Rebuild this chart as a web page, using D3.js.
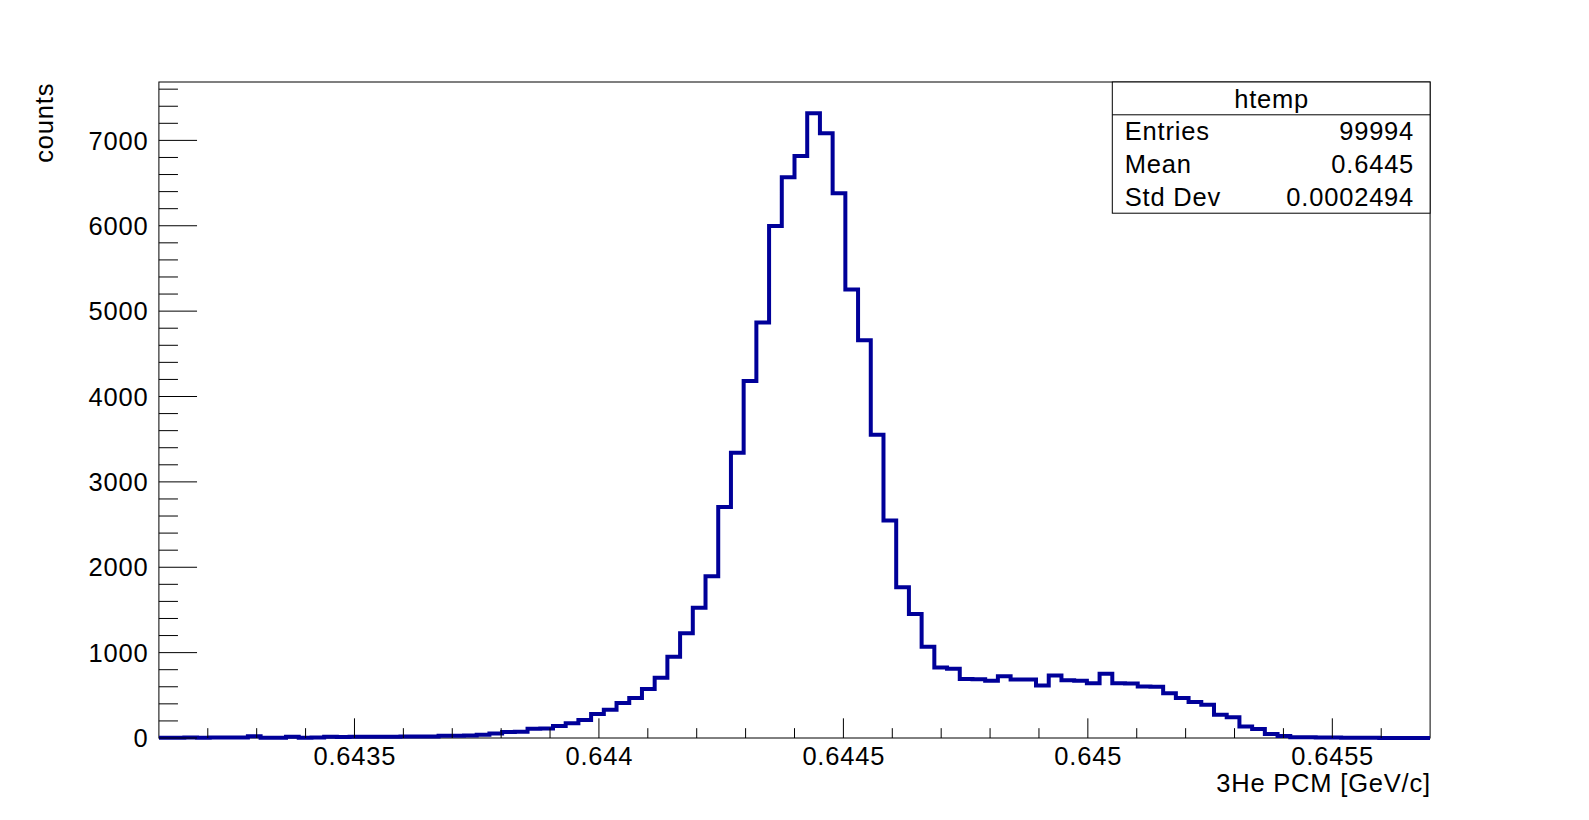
<!DOCTYPE html>
<html><head><meta charset="utf-8">
<script src="https://cdn.jsdelivr.net/npm/d3@7"></script>
<style>
html,body{margin:0;padding:0;background:#fff;}
svg{display:block;}
text{font-family:"Liberation Sans",Arial,Helvetica,sans-serif;fill:#000;letter-spacing:0.8px;}
</style>
</head><body>
<svg id="c" width="1589" height="820"></svg>
<script>
// ---- data ----
const xRange = [0.6431, 0.6457];
const counts = [
  4, 3, 5, 4, 6, 5, 7, 20, 3, 4,
  16, 4, 5, 14, 13, 14, 15, 16, 15, 17,
  18, 19, 26, 27, 28, 38, 52, 70, 72, 108,
  112, 140, 172, 212, 280, 330, 410, 470, 575, 705,
  952, 1227, 1525, 1895, 2705, 3340, 4183, 4867, 5996, 6567,
  6817, 7318, 7083, 6380, 5254, 4660, 3551, 2547, 1766, 1453,
  1068, 825, 810, 690, 688, 672, 722, 685, 684, 615,
  733, 675, 672, 640, 752, 640, 638, 602, 600, 523,
  470, 422, 390, 272, 243, 135, 105, 48, 22, 10,
  8, 7, 6, 3, 2, 2, 1, 1, 1, 0
];
const xMajorTicks = [0.6435, 0.644, 0.6445, 0.645, 0.6455];
const xTickLabels = ["0.6435", "0.644", "0.6445", "0.645", "0.6455"];
const xMinorStep = 0.0001;
const yMajorTicks = [0, 1000, 2000, 3000, 4000, 5000, 6000, 7000];
const yTickLabels = ["0", "1000", "2000", "3000", "4000", "5000", "6000", "7000"];
const yMinorStep = 200;
const statsTitle = "htemp";
const statsNames = ["Entries", "Mean", "Std Dev"];
const statsValues = ["99994", "0.6445", "0.0002494"];
const xTitle = "3He PCM [GeV/c]";
const yTitle = "counts";

// ---- layout ----
const W = 1589, H = 820;
const fl = 0.1 * W, fr = 0.9 * W, ft = 0.1 * H, fb = 0.9 * H;
const FS = 25.5;
const lineColor = "#000099";

const svg = d3.select("#c");
svg.append("rect").attr("width", W).attr("height", H).attr("fill", "#fff");

const nb = counts.length;
const bw = (xRange[1] - xRange[0]) / nb;
const x = d3.scaleLinear().domain(xRange).range([fl, fr]);
const ymax = 1.05 * d3.max(counts);
const y = d3.scaleLinear().domain([0, ymax]).range([fb, ft]);

// frame
svg.append("rect").attr("x", fl).attr("y", ft).attr("width", fr - fl).attr("height", fb - ft)
  .attr("fill", "none").attr("stroke", "#000").attr("stroke-width", 1);

// histogram outline
const pts = [[xRange[0], 0]];
counts.forEach((c, i) => {
  const lo = xRange[0] + i * bw, hi = xRange[0] + (i + 1) * bw;
  pts.push([lo, c]); pts.push([hi, c]);
});
pts.push([xRange[1], 0]);
const line = d3.line().x(d => x(d[0])).y(d => y(d[1]));
svg.append("defs").append("clipPath").attr("id", "fc").append("rect")
  .attr("x", fl).attr("y", ft).attr("width", fr - fl).attr("height", fb - ft + 3);
svg.append("path").attr("d", line(pts)).attr("fill", "none").attr("stroke", lineColor)
  .attr("stroke-width", 4).attr("stroke-linejoin", "miter").attr("clip-path", "url(#fc)");

// axes ticks (inward, ROOT style)
const g = svg.append("g").attr("stroke", "#000").attr("stroke-width", 1);
const xMajLen = 0.03 * (fb - ft), xMinLen = xMajLen / 2;
const nMinX = Math.round((xRange[1] - xRange[0]) / xMinorStep);
for (let k = 1; k < nMinX; k++) {
  const v = xRange[0] + k * xMinorStep;
  const isMaj = xMajorTicks.some(t => Math.abs(t - v) < 1e-9);
  const xp = x(v);
  g.append("line").attr("x1", xp).attr("x2", xp).attr("y1", fb).attr("y2", fb - (isMaj ? xMajLen : xMinLen));
}
const yMajLen = 0.03 * (fr - fl), yMinLen = yMajLen / 2;
for (let v = 0; v <= ymax; v += yMinorStep) {
  const isMaj = yMajorTicks.includes(v);
  const yp = y(v);
  g.append("line").attr("x1", fl).attr("x2", fl + (isMaj ? yMajLen : yMinLen)).attr("y1", yp).attr("y2", yp);
}

// tick labels
xMajorTicks.forEach((t, i) => {
  svg.append("text").attr("x", x(t) + 0.4).attr("y", fb + 27).attr("text-anchor", "middle")
    .attr("font-size", FS).text(xTickLabels[i]);
});
yMajorTicks.forEach((t, i) => {
  svg.append("text").attr("x", fl - 10.4).attr("y", y(t)).attr("dy", "0.36em").attr("text-anchor", "end")
    .attr("font-size", FS).text(yTickLabels[i]);
});

// axis titles
svg.append("text").attr("x", fr + 0.8).attr("y", fb + 54).attr("text-anchor", "end")
  .attr("font-size", FS).text(xTitle);
svg.append("text").attr("transform", `translate(53,${ft + 0.8}) rotate(-90)`).attr("text-anchor", "end")
  .attr("font-size", FS).text(yTitle);

// stats box
const sx1 = 0.7 * W, sx2 = 0.9 * W, sy1 = 0.1 * H, sy2 = 0.26 * H;
const rowH = (sy2 - sy1) / 4;
svg.append("rect").attr("x", sx1).attr("y", sy1).attr("width", sx2 - sx1).attr("height", sy2 - sy1)
  .attr("fill", "#fff").attr("stroke", "#000").attr("stroke-width", 1);
svg.append("line").attr("x1", sx1).attr("x2", sx2).attr("y1", sy1 + rowH).attr("y2", sy1 + rowH)
  .attr("stroke", "#000").attr("stroke-width", 1);
svg.append("text").attr("x", (sx1 + sx2) / 2 + 0.4).attr("y", sy1 + rowH / 2).attr("dy", "0.36em")
  .attr("text-anchor", "middle").attr("font-size", FS).text(statsTitle);
statsNames.forEach((n, i) => {
  const cy = sy1 + rowH * (i + 1.5);
  svg.append("text").attr("x", sx1 + 12.5).attr("y", cy).attr("dy", "0.36em")
    .attr("font-size", FS).text(n);
  svg.append("text").attr("x", sx2 - 16).attr("y", cy).attr("dy", "0.36em").attr("text-anchor", "end")
    .attr("font-size", FS).text(statsValues[i]);
});
</script>
</body></html>
